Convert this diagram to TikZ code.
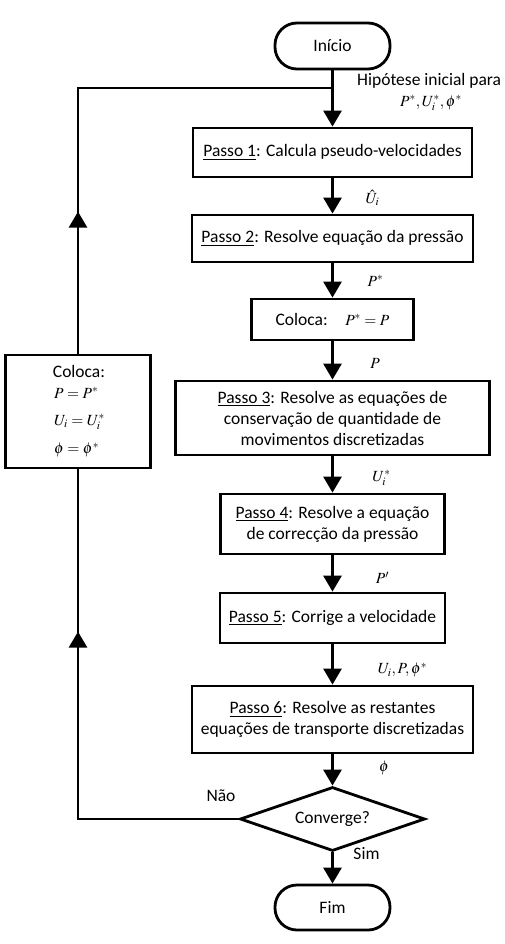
\documentclass[tikz,border=0pt]{standalone}
\usepackage{mathptmx}
\usepackage[no-math]{fontspec}
\setmainfont{Carlito}
\usetikzlibrary{arrows.meta,shapes.geometric,decorations.markings}
\newcommand{\mth}[1]{{\fontsize{15.5}{18}\selectfont$#1$}}
\begin{document}
\begin{tikzpicture}[x=1pt,y=-1pt,
  font=\fontsize{17.5}{21}\selectfont,
  box/.style={draw,line width=2.8pt,inner sep=0pt,align=center},
  term/.style={box,rounded corners=22pt},
  con/.style={line width=2.8pt},
  arr/.style={con,-{Triangle[width=18pt,length=16pt]}},
  lbl/.style={inner sep=0pt},
  midarrow/.style={postaction={decorate},decoration={markings,mark=at position #1 with {\arrow{Triangle[width=18pt,length=16pt]}}}}
]
\useasboundingbox (0,0) rectangle (505,944);

\node[term, minimum width=115pt, minimum height=46pt] (ini) at (332.5,46) {Início};
\node[box, minimum width=279pt, minimum height=49pt] (p1) at (332.5,152.5) {\underline{Passo 1}: Calcula pseudo-velocidades};
\node[box, minimum width=281pt, minimum height=47pt] (p2) at (332.5,238.5) {\underline{Passo 2}: Resolve equação da pressão};
\node[box, minimum width=162pt, minimum height=41pt] (col) at (332.5,319.5) {Coloca:\quad\mth{P^{*}=P}};
\node[box, minimum width=314pt, minimum height=74pt] (p3) at (332.5,418) {\underline{Passo 3}: Resolve as equações de\\conservação de quantidade de\\movimentos discretizadas};
\node[box, minimum width=224pt, minimum height=60pt] (p4) at (332.5,524) {\underline{Passo 4}: Resolve a equação\\de correcção da pressão};
\node[box, minimum width=225pt, minimum height=50pt] (p5) at (332.5,618) {\underline{Passo 5}: Corrige a velocidade};
\node[box, minimum width=281pt, minimum height=67pt] (p6) at (332.5,719.5) {\underline{Passo 6}: Resolve as restantes\\equações de transporte discretizadas};
\node[box, diamond, aspect=2.9, minimum width=185pt, minimum height=64pt] (conv) at (332.5,819) {Converge?};
\node[term, minimum width=115pt, minimum height=45pt] (fim) at (332.5,907.5) {Fim};

\node[box, minimum width=145pt, minimum height=113pt] (L) at (78,411.5) {};
\node[lbl] (Lt) at (79,371) {Coloca:};
\node[lbl, anchor=west] (Le1) at (54,393) {\mth{P=P^{*}}};
\node[lbl, anchor=west] (Le2) at (54,422) {\mth{U_i=U_i^{*}}};
\node[lbl, anchor=west] (Le3) at (54,450) {\mth{\phi=\phi^{*}}};

\coordinate (jn) at (332.5,88);

\draw[arr] (ini) -- (p1);
\draw[arr] (p1) -- (p2);
\draw[arr] (p2) -- (col);
\draw[arr] (col) -- (p3);
\draw[arr] (p3) -- (p4);
\draw[arr] (p4) -- (p5);
\draw[arr] (p5) -- (p6);
\draw[arr] (p6) -- (conv);
\draw[arr] (conv) -- (fim);
\draw[con, midarrow=348pt] (conv.west) -| (L.south);
\draw[con, midarrow=142pt] (L.north) |- (jn);

\node[lbl, anchor=west] (hip) at (357,81) {Hipótese inicial para};
\node[lbl] (hipm) at (431,103) {\mth{P^{*},U_i^{*},\phi^{*}}};
\node[lbl] (l1) at (372.5,198) {\mth{\hat{U}_i}};
\node[lbl] (l2) at (375.5,281) {\mth{P^{*}}};
\node[lbl] (l3) at (375,363) {\mth{P}};
\node[lbl] (l4) at (381.5,478) {\mth{U_i^{*}}};
\node[lbl] (l5) at (382.5,578) {\mth{P'}};
\node[lbl] (l6) at (402.5,670) {\mth{U_i,P,\phi^{*}}};
\node[lbl] (l7) at (384,768) {\mth{\phi}};
\node[lbl] (nao) at (221,796) {Não};
\node[lbl] (sim) at (366.5,854) {Sim};
\end{tikzpicture}
\end{document}
